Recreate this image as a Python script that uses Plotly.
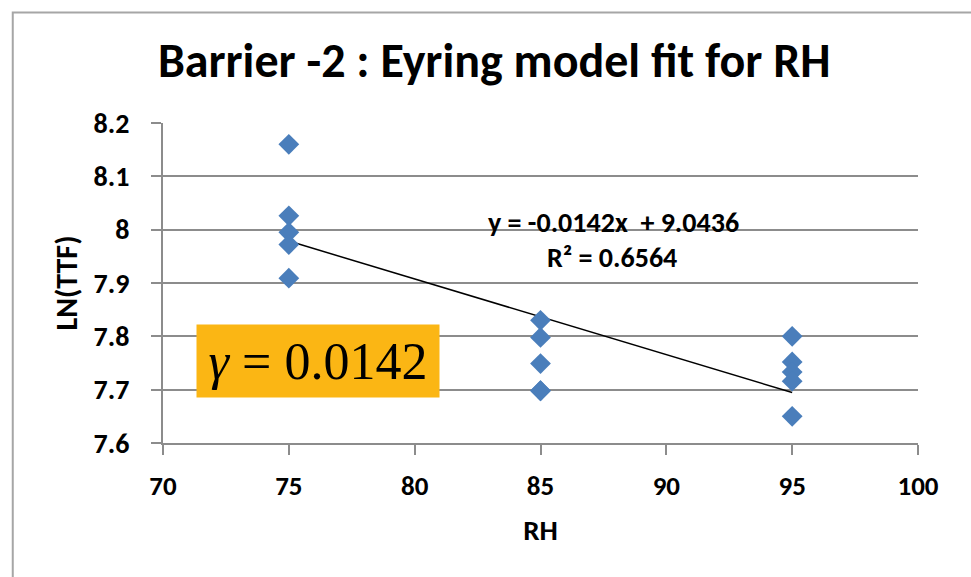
import plotly.graph_objects as go

# Relative humidity levels (%) and log time-to-failure per sample
rh_75 = [75, 75, 75, 75, 75]
ttf_75 = [8.160, 8.026, 7.995, 7.972, 7.909]
rh_85 = [85, 85, 85, 85, 85]
ttf_85 = [7.830, 7.798, 7.749, 7.698, 7.698]
rh_95 = [95, 95, 95, 95, 95]
ttf_95 = [7.800, 7.752, 7.733, 7.716, 7.650]

rh = rh_75 + rh_85 + rh_95
ln_ttf = ttf_75 + ttf_85 + ttf_95

# Linear trend: ln(TTF) = slope * RH + intercept
slope = -0.0142
intercept = 9.0436
r_squared = 0.6564
trend_x = [75, 95]
trend_y = [slope * x + intercept for x in trend_x]

x_ticks = [70, 75, 80, 85, 90, 95, 100]
y_ticks = [7.6, 7.7, 7.8, 7.9, 8.0, 8.1, 8.2]
y_tick_text = ["7.6", "7.7", "7.8", "7.9", "8", "8.1", "8.2"]

FONT = "Carlito, Calibri, Lato, sans-serif"
GRID = "#8c8c8c"

fig = go.Figure()
fig.add_trace(go.Scatter(
    x=trend_x, y=trend_y, mode="lines",
    line=dict(color="black", width=1.5), showlegend=False, hoverinfo="skip"))
fig.add_trace(go.Scatter(
    x=rh, y=ln_ttf, mode="markers",
    marker=dict(symbol="diamond", size=16, color="#4a7ebb"),
    showlegend=False))

fig.update_layout(
    width=971, height=577,
    margin=dict(l=163, r=53, t=123, b=134),
    paper_bgcolor="white", plot_bgcolor="white",
    font=dict(family=FONT, color="black"),
    title=dict(
        text="<b>Barrier -2 : Eyring model fit for RH</b>",
        font=dict(family=FONT, size=48, color="black"),
        x=0.509, xref="container", xanchor="center",
        y=0.895, yref="container", yanchor="middle"),
    xaxis=dict(
        range=[70, 100], tickvals=x_ticks,
        ticktext=[f"<b>{v}</b>" for v in x_ticks],
        tickfont=dict(size=27, family=FONT),
        showgrid=False, zeroline=False,
        showline=True, linecolor=GRID, linewidth=2,
        ticks="outside", ticklen=10, tickwidth=2, tickcolor=GRID,
        ticklabelstandoff=8,
        title=dict(text="<b>RH</b>", font=dict(size=29, family=FONT), standoff=18)),
    yaxis=dict(
        range=[7.6, 8.2], tickvals=y_ticks,
        ticktext=[f"<b>{t}</b>" for t in y_tick_text],
        tickfont=dict(size=28, family=FONT),
        showgrid=True, gridcolor=GRID, gridwidth=2, zeroline=False,
        showline=True, linecolor=GRID, linewidth=2,
        ticks="outside", ticklen=10, tickwidth=2, tickcolor=GRID,
        ticklabelstandoff=16,
        title=dict(text="<b>LN(TTF)</b>", font=dict(size=30, family=FONT), standoff=7)),
)

# Trendline equation and goodness of fit
fig.add_annotation(
    x=87.92, y=8.014, xref="x", yref="y", showarrow=False,
    text=f"<b>y = {slope}x  + {intercept}</b>",
    font=dict(size=28, family=FONT, color="black"))
fig.add_annotation(
    x=87.84, y=7.947, xref="x", yref="y", showarrow=False,
    text=f"<b>R² = {r_squared}</b>",
    font=dict(size=28, family=FONT, color="black"))

# Highlighted humidity exponent
fig.add_annotation(
    x=76.16, y=7.754, xref="x", yref="y", showarrow=False,
    text=f"<i>γ</i> = {abs(slope)}",
    font=dict(size=52, family="Liberation Serif, Times New Roman, serif", color="black"),
    bgcolor="#fbb614", width=240, height=70, align="center", valign="middle")

# Chart-area frame
fig.add_shape(
    type="rect", xref="paper", yref="paper",
    x0=-0.199, x1=1.2, y0=-0.6, y1=1.345,
    line=dict(color="#a6a6a6", width=2), fillcolor="rgba(0,0,0,0)", layer="below")

fig.write_html("out.html")
